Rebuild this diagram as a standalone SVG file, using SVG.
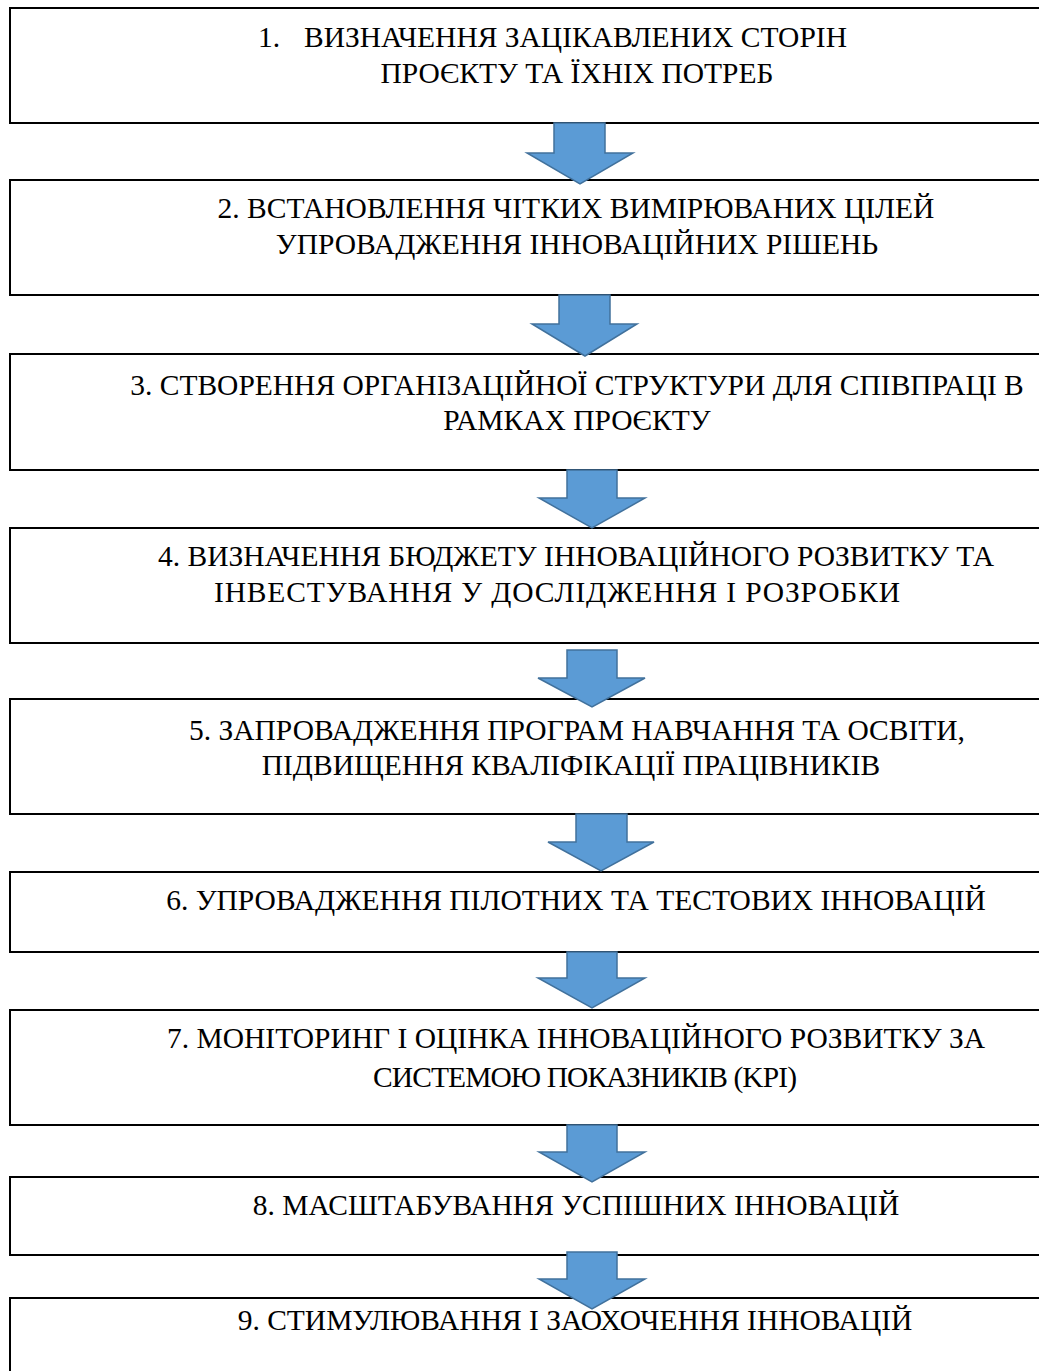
<svg xmlns="http://www.w3.org/2000/svg" width="1039" height="1371" viewBox="0 0 1039 1371">
  <style>
    .box { fill: #ffffff; stroke: #000000; stroke-width: 2; }
    .lbl { font-family: "Liberation Serif", "Times New Roman", serif; font-size: 29.5px; fill: #000000; }
    .arrow { fill: #5B9BD5; stroke: #41719C; stroke-width: 1.5; stroke-linejoin: miter; }
  </style>
  <rect width="1039" height="1371" fill="#ffffff"/>

  <g id="step1">
    <rect class="box" x="10" y="8" width="1040" height="115"/>
    <text class="lbl" y="47"><tspan x="258">1.</tspan><tspan x="304">ВИЗНАЧЕННЯ ЗАЦІКАВЛЕНИХ СТОРІН</tspan></text>
    <text class="lbl" x="577" y="83" text-anchor="middle">ПРОЄКТУ ТА ЇХНІХ ПОТРЕБ</text>
  </g>
  <g id="step2">
    <rect class="box" x="10" y="180" width="1040" height="115"/>
    <text class="lbl" x="576" y="218" text-anchor="middle">2. ВСТАНОВЛЕННЯ ЧІТКИХ ВИМІРЮВАНИХ ЦІЛЕЙ</text>
    <text class="lbl" x="577" y="254" text-anchor="middle">УПРОВАДЖЕННЯ ІННОВАЦІЙНИХ РІШЕНЬ</text>
  </g>
  <g id="step3">
    <rect class="box" x="10" y="354" width="1040" height="116"/>
    <text class="lbl" x="577" y="395" text-anchor="middle">3. СТВОРЕННЯ ОРГАНІЗАЦІЙНОЇ СТРУКТУРИ ДЛЯ СПІВПРАЦІ В</text>
    <text class="lbl" x="577" y="430" text-anchor="middle">РАМКАХ ПРОЄКТУ</text>
  </g>
  <g id="step4">
    <rect class="box" x="10" y="528" width="1040" height="115"/>
    <text class="lbl" x="576" y="566" text-anchor="middle">4. ВИЗНАЧЕННЯ БЮДЖЕТУ ІННОВАЦІЙНОГО РОЗВИТКУ ТА</text>
    <text class="lbl" x="214" y="602" textLength="686" lengthAdjust="spacing">ІНВЕСТУВАННЯ У ДОСЛІДЖЕННЯ І РОЗРОБКИ</text>
  </g>
  <g id="step5">
    <rect class="box" x="10" y="699" width="1040" height="115"/>
    <text class="lbl" x="577" y="740" text-anchor="middle">5. ЗАПРОВАДЖЕННЯ ПРОГРАМ НАВЧАННЯ ТА ОСВІТИ,</text>
    <text class="lbl" x="571" y="775" text-anchor="middle">ПІДВИЩЕННЯ КВАЛІФІКАЦІЇ ПРАЦІВНИКІВ</text>
  </g>
  <g id="step6">
    <rect class="box" x="10" y="872" width="1040" height="80"/>
    <text class="lbl" x="576" y="910" text-anchor="middle">6. УПРОВАДЖЕННЯ ПІЛОТНИХ ТА ТЕСТОВИХ ІННОВАЦІЙ</text>
  </g>
  <g id="step7">
    <rect class="box" x="10" y="1010" width="1040" height="115"/>
    <text class="lbl" x="576" y="1048" text-anchor="middle">7. МОНІТОРИНГ І ОЦІНКА ІННОВАЦІЙНОГО РОЗВИТКУ ЗА</text>
    <text class="lbl" x="373" y="1087" textLength="424" lengthAdjust="spacing">СИСТЕМОЮ ПОКАЗНИКІВ (KPI)</text>
  </g>
  <g id="step8">
    <rect class="box" x="10" y="1177" width="1040" height="78"/>
    <text class="lbl" x="576" y="1215" text-anchor="middle">8. МАСШТАБУВАННЯ УСПІШНИХ ІННОВАЦІЙ</text>
  </g>
  <g id="step9">
    <rect class="box" x="10" y="1298" width="1040" height="90"/>
    <text class="lbl" x="575" y="1330" text-anchor="middle">9. СТИМУЛЮВАННЯ І ЗАОХОЧЕННЯ ІННОВАЦІЙ</text>
  </g>

  <!-- block arrows between consecutive steps -->
  <g id="connectors">
    <polygon class="arrow" points="554,123 605,123 605,153 633,153 580,184 527,153 554,153"/>
    <polygon class="arrow" points="559,295 610,295 610,324 637,324 585,356 532,324 559,324"/>
    <polygon class="arrow" points="567,470 617,470 617,498 645,498 592,528 539,498 567,498"/>
    <polygon class="arrow" points="567,650 617,650 617,678 645,678 592,707 538,678 567,678"/>
    <polygon class="arrow" points="576,814 627,814 627,842 654,842 601,871 548,842 576,842"/>
    <polygon class="arrow" points="567,952 617,952 617,978 645,978 592,1008 538,978 567,978"/>
    <polygon class="arrow" points="567,1125 617,1125 617,1152 645,1152 592,1182 539,1152 567,1152"/>
    <polygon class="arrow" points="567,1252 617,1252 617,1279 645,1279 592,1309 539,1279 567,1279"/>
  </g>
</svg>
